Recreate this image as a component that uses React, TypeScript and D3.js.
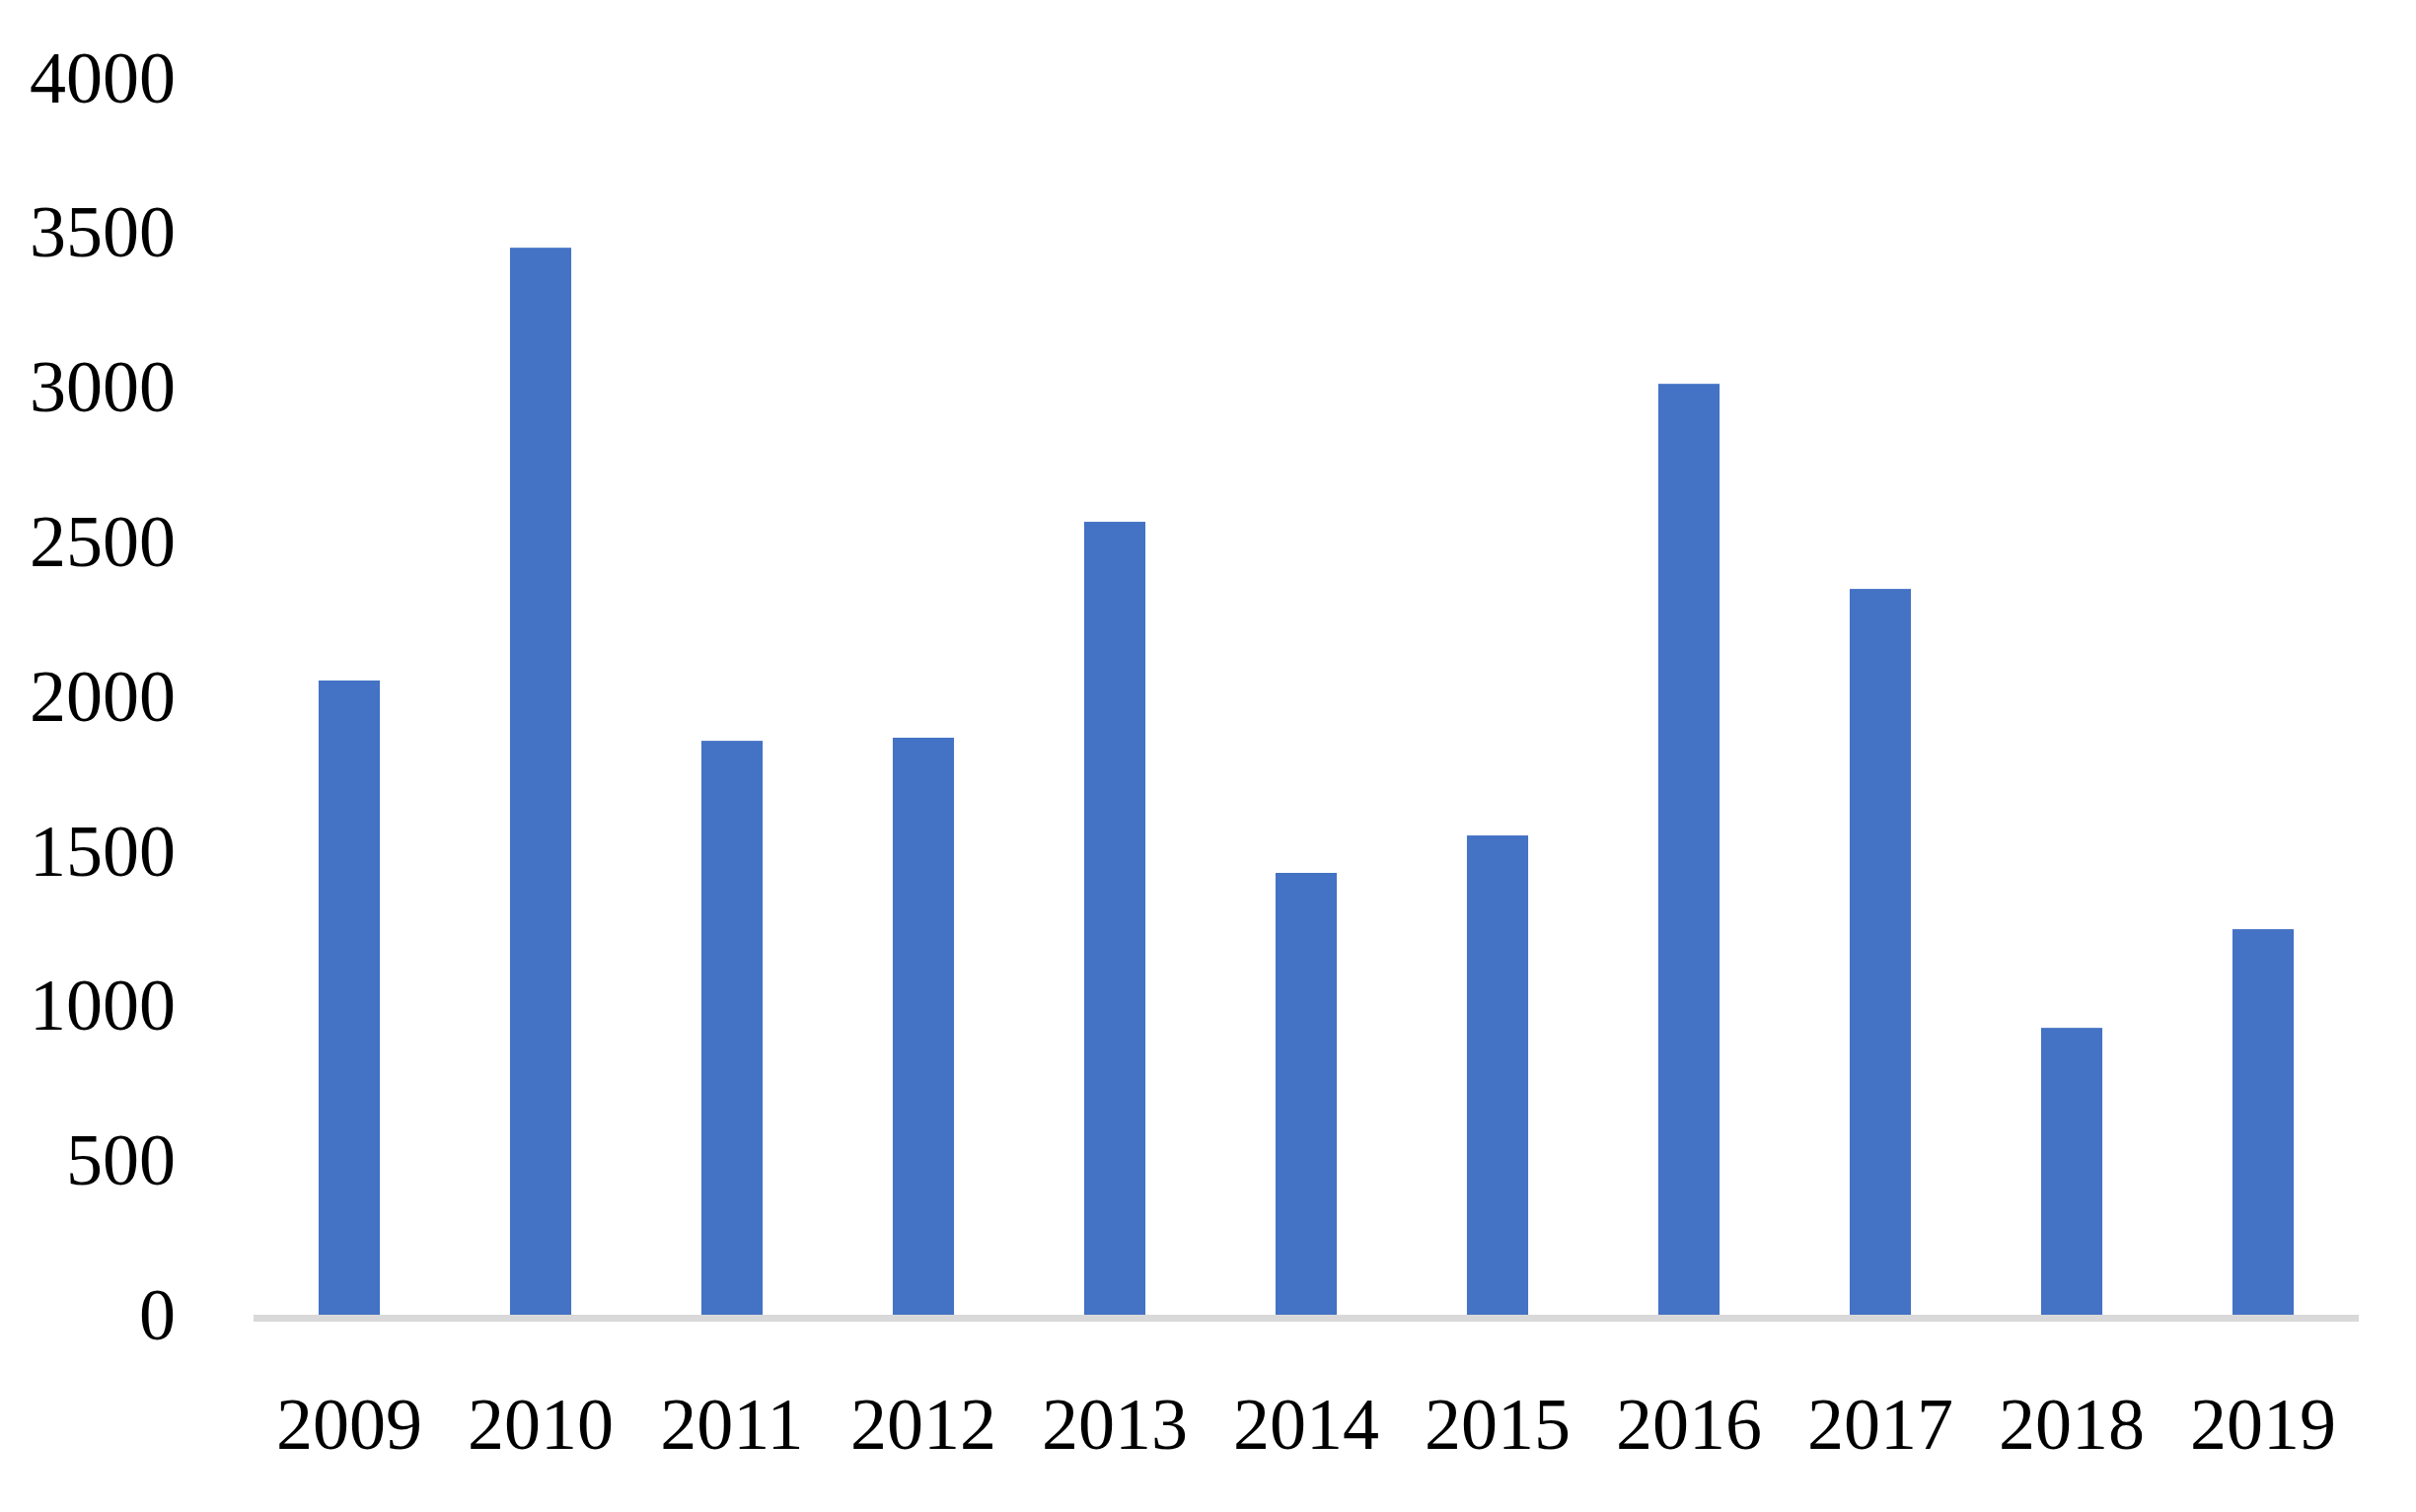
import React, { useEffect, useRef } from "react";
import * as d3 from "d3";

const years = ["2009", "2010", "2011", "2012", "2013", "2014", "2015", "2016", "2017", "2018", "2019"];
const counts = [2060, 3459, 1865, 1875, 2573, 1438, 1559, 3019, 2356, 937, 1256];
const yTicks = [0, 500, 1000, 1500, 2000, 2500, 3000, 3500, 4000];

const App = () => {
  const svgRef = useRef<SVGSVGElement>(null);

  useEffect(() => {
    const width = 2449;
    const height = 1533;
    const plot = { left: 257, right: 2391, top: 81.5, bottom: 1336 };

    const svg = d3.select(svgRef.current);
    svg.selectAll("*").remove();
    svg.attr("width", width).attr("height", height);

    svg.append("rect").attr("width", width).attr("height", height).attr("fill", "#ffffff");

    const x = d3.scaleBand()
      .domain(years)
      .range([plot.left, plot.right])
      .paddingInner(0.68)
      .paddingOuter(0.34);

    const y = d3.scaleLinear().domain([0, 4000]).range([plot.bottom, plot.top]);

    const font = "'Liberation Serif', 'Times New Roman', serif";

    // value labels on the left, no gridlines
    svg.append("g")
      .selectAll("text")
      .data(yTicks)
      .join("text")
      .attr("x", 178)
      .attr("y", (d) => y(d) + 22)
      .attr("text-anchor", "end")
      .style("font-family", font)
      .style("font-size", "74px")
      .style("fill", "#000")
      .text((d) => d);

    svg.append("g")
      .selectAll("rect")
      .data(counts)
      .join("rect")
      .attr("x", (d, i) => x(years[i]) as number)
      .attr("y", (d) => y(d))
      .attr("width", x.bandwidth())
      .attr("height", (d) => y(0) - y(d))
      .attr("fill", "#4472C4");

    // category axis line
    svg.append("line")
      .attr("x1", plot.left)
      .attr("x2", plot.right)
      .attr("y1", y(0) + 0.5)
      .attr("y2", y(0) + 0.5)
      .attr("stroke", "#D9D9D9")
      .attr("stroke-width", 7);

    svg.append("g")
      .selectAll("text")
      .data(years)
      .join("text")
      .attr("x", (d) => (x(d) as number) + x.bandwidth() / 2)
      .attr("y", 1469)
      .attr("text-anchor", "middle")
      .style("font-family", font)
      .style("font-size", "74px")
      .style("fill", "#000")
      .text((d) => d);
  }, []);

  return (
    <div style={{ position: "absolute", left: 0, top: 0 }}>
      <svg ref={svgRef} width={2449} height={1533} style={{ display: "block" }}></svg>
    </div>
  );
};

export default App;
